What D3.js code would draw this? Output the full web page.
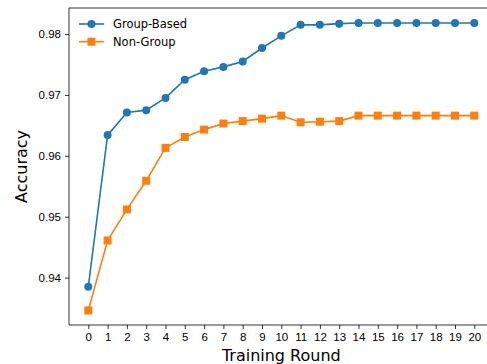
<!DOCTYPE html>
<html>
<head>
<meta charset="utf-8">
<script src="https://cdn.jsdelivr.net/npm/d3@7"></script>
<style>
  body { margin: 0; background: #fff; }
  svg { display: block; font-family: "DejaVu Sans", sans-serif; }
  .axis text { font-size: 11.5px; fill: #000; }
  .axis path, .axis line { stroke: #000; stroke-width: 0.8px; }
</style>
</head>
<body>
<div id="chart"></div>
<script>
// training rounds 0..20
var rounds = d3.range(0, 21);

var groupBased = [0.9385, 0.9634, 0.9671, 0.9675, 0.9695, 0.9725, 0.9739, 0.9746, 0.9755, 0.9777,
    0.9797, 0.9815, 0.9815, 0.9817, 0.9818, 0.9818, 0.9818, 0.9818, 0.9818, 0.9818, 0.9818];

var nonGroup = [0.9346, 0.9461, 0.9512, 0.9559, 0.9613, 0.9631, 0.9643, 0.9653, 0.9657, 0.9661,
    0.9666, 0.9655, 0.9656, 0.9657, 0.9666, 0.9666, 0.9666, 0.9666, 0.9666, 0.9666, 0.9666];

var yTicks = [0.94, 0.95, 0.96, 0.97, 0.98];

var series = [
    {name: "Group-Based", values: groupBased, color: "#1f77b4", marker: "circle"},
    {name: "Non-Group", values: nonGroup, color: "#ff7f0e", marker: "square"}
];

var W = 487, H = 364;
var margin = {top: 8, left: 69, bottom: 39};
var plotRight = 493.6;

var svg = d3.select("#chart").append("svg")
    .attr("width", W)
    .attr("height", H);

var x = d3.scaleLinear()
    .domain([-1, 21])
    .range([margin.left, plotRight]);

var y = d3.scaleLinear()
    .domain([0.93222, 0.98427])
    .range([H - margin.bottom, margin.top]);

// axes
svg.append("g")
    .attr("class", "axis")
    .attr("transform", "translate(0," + (H - margin.bottom) + ")")
    .call(d3.axisBottom(x).tickValues(rounds).tickFormat(d3.format("d")).tickSize(4).tickPadding(4))
    .call(function (g) { g.select(".domain").attr("d", "M" + margin.left + ",0H" + plotRight); });

svg.append("g")
    .attr("class", "axis")
    .attr("transform", "translate(" + margin.left + ",0)")
    .call(d3.axisLeft(y).tickValues(yTicks).tickFormat(d3.format(".2f")).tickSize(4).tickPadding(4))
    .call(function (g) { g.select(".domain").attr("d", "M0," + (H - margin.bottom) + "V" + margin.top); });

// top spine (right spine falls outside the picture)
svg.append("line")
    .attr("x1", margin.left).attr("x2", plotRight)
    .attr("y1", margin.top).attr("y2", margin.top)
    .attr("stroke", "#000").attr("stroke-width", 0.8);

var line = d3.line()
    .x(function (d, i) { return x(rounds[i]); })
    .y(function (d) { return y(d); });

function drawMarker(sel, s, cx, cy) {
    if (s.marker === "circle") {
        sel.append("circle")
            .attr("cx", cx).attr("cy", cy).attr("r", 4)
            .attr("fill", s.color);
    } else {
        sel.append("rect")
            .attr("x", cx - 4).attr("y", cy - 4)
            .attr("width", 8).attr("height", 8)
            .attr("fill", s.color);
    }
}

series.forEach(function (s) {
    var g = svg.append("g");
    g.append("path")
        .datum(s.values)
        .attr("d", line)
        .attr("fill", "none")
        .attr("stroke", s.color)
        .attr("stroke-width", 1.6);
    s.values.forEach(function (v, i) {
        drawMarker(g, s, x(rounds[i]), y(v));
    });
});

// legend
var legend = svg.append("g").attr("transform", "translate(79,24)");
series.forEach(function (s, i) {
    var row = legend.append("g").attr("transform", "translate(0," + (i * 17.7) + ")");
    row.append("line")
        .attr("x1", 0).attr("x2", 25)
        .attr("stroke", s.color).attr("stroke-width", 1.6);
    drawMarker(row, s, 12.5, 0);
    row.append("text")
        .attr("x", 34).attr("y", 4)
        .attr("font-size", "11.5px")
        .text(s.name);
});

// axis labels
svg.append("text")
    .attr("x", (margin.left + plotRight) / 2)
    .attr("y", 361)
    .attr("text-anchor", "middle")
    .attr("font-size", "16px")
    .text("Training Round");

svg.append("text")
    .attr("transform", "translate(27," + ((margin.top + H - margin.bottom) / 2) + ") rotate(-90)")
    .attr("text-anchor", "middle")
    .attr("font-size", "16px")
    .text("Accuracy");
</script>
</body>
</html>
